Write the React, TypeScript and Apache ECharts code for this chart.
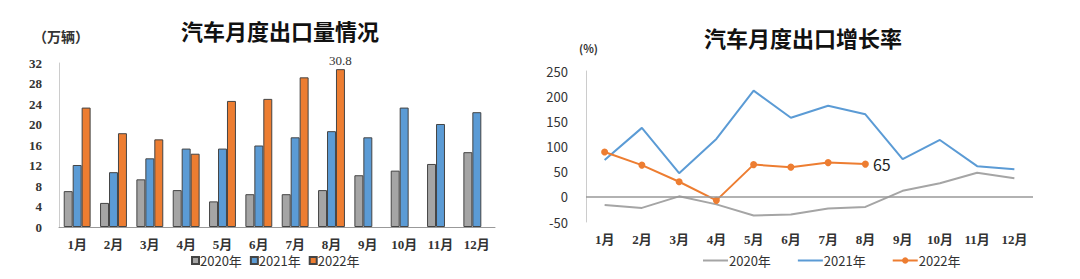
import React, { useEffect, useRef } from "react";
import * as echarts from "echarts";

const months = ["1月", "2月", "3月", "4月", "5月", "6月", "7月", "8月", "9月", "10月", "11月", "12月"];
const seriesNames = ["2020年", "2021年", "2022年"];
const exports2020 = [7.0, 4.7, 9.3, 7.2, 5.0, 6.4, 6.4, 7.2, 10.1, 11.0, 12.3, 14.6];
const exports2021 = [12.1, 10.7, 13.4, 15.3, 15.3, 15.9, 17.5, 18.7, 17.5, 23.3, 20.1, 22.4];
const exports2022 = [23.3, 18.3, 17.1, 14.3, 24.6, 25.0, 29.2, 30.8];
const growth2020 = [-16, -22, 1, -15, -37, -35, -23, -20, 12, 27, 48, 37];
const growth2021 = [73, 137, 47, 115, 211, 157, 181, 164, 75, 113, 61, 55];
const growth2022 = [89, 63, 30, -7, 64, 59, 68, 65];

const GRAY = "#A5A5A5";
const BLUE = "#5B9BD5";
const ORANGE = "#ED7D31";
const SERIF = "'Liberation Serif', 'DejaVu Serif', 'Noto Sans CJK SC', serif";
const SANS = "'Noto Sans CJK SC', 'Noto Sans', sans-serif";

function leftOption(): any {
  const lastIdx = exports2022.length - 1;
  return {
    animation: false,
    title: {
      text: "汽车月度出口量情况",
      left: 275,
      top: 14,
      textAlign: "center",
      textStyle: { fontFamily: SANS, fontSize: 22, fontWeight: "bold", color: "#111" },
    },
    graphic: [
      {
        type: "text",
        x: 33,
        y: 29,
        style: { text: "（万辆）", font: `bold 14px ${SANS}`, fill: "#333" },
      },
    ],
    legend: {
      bottom: 7,
      left: 186,
      itemWidth: 7,
      itemHeight: 7,
      itemGap: 8,
      icon: "rect",
      textStyle: { fontFamily: SANS, fontSize: 13, color: "#333", padding: [0, 0, 0, -4] },
      data: seriesNames,
    },
    grid: { left: 59, right: 45, top: 63, bottom: 52 },
    xAxis: {
      type: "category",
      data: months,
      axisLine: { lineStyle: { color: "#999" } },
      axisTick: { show: false },
      axisLabel: { interval: 0, fontFamily: SERIF, fontSize: 13, color: "#333", fontWeight: "bold", margin: 11 },
    },
    yAxis: {
      type: "value",
      min: 0,
      max: 32,
      interval: 4,
      axisLine: { show: true, lineStyle: { color: "#ccc" } },
      splitLine: { show: false },
      axisLabel: { fontFamily: SERIF, fontSize: 13, color: "#333", fontWeight: "bold", margin: 17 },
    },
    series: [
      {
        name: seriesNames[0],
        type: "bar",
        data: exports2020,
        barGap: "0%",
        barCategoryGap: "26%",
        itemStyle: { color: GRAY, borderColor: "#444", borderWidth: 1 },
      },
      {
        name: seriesNames[1],
        type: "bar",
        data: exports2021,
        itemStyle: { color: BLUE, borderColor: "#444", borderWidth: 1 },
      },
      {
        name: seriesNames[2],
        type: "bar",
        data: exports2022.map((v, i) =>
          i === lastIdx
            ? {
                value: v,
                label: {
                  show: true,
                  position: "top",
                  distance: 2,
                  fontFamily: SERIF,
                  fontSize: 13,
                  color: "#333",
                },
              }
            : v
        ),
        itemStyle: { color: ORANGE, borderColor: "#444", borderWidth: 1 },
      },
    ],
  };
}

function rightOption(): any {
  const lastIdx = growth2022.length - 1;
  return {
    animation: false,
    title: {
      text: "汽车月度出口增长率",
      left: 258,
      top: 21,
      textAlign: "center",
      textStyle: { fontFamily: SANS, fontSize: 22, fontWeight: "bold", color: "#111" },
    },
    graphic: [
      {
        type: "text",
        x: 39,
        y: 42,
        style: { text: "(%)", font: `bold 11px ${SANS}`, fill: "#333" },
      },
    ],
    legend: {
      bottom: 7,
      left: 157,
      itemWidth: 25,
      itemHeight: 8,
      itemGap: 26,
      textStyle: { fontFamily: SANS, fontSize: 13, color: "#333", padding: [0, 0, 0, -4] },
      data: [
        { name: seriesNames[0], itemStyle: { opacity: 0 } },
        { name: seriesNames[1], itemStyle: { opacity: 0 } },
        { name: seriesNames[2] },
      ],
    },
    grid: { left: 46, right: 47, top: 71, bottom: 57 },
    xAxis: {
      type: "category",
      data: months,
      axisLine: { show: false },
      axisTick: { show: false },
      axisLabel: { interval: 0, fontFamily: SERIF, fontSize: 13, color: "#333", fontWeight: "bold", margin: 11 },
    },
    yAxis: {
      type: "value",
      min: -50,
      max: 250,
      interval: 50,
      axisLine: { show: true, lineStyle: { color: "#ccc" } },
      splitLine: { show: false },
      axisLabel: { fontFamily: SANS, fontSize: 13, color: "#333", margin: 18 },
    },
    series: [
      {
        name: seriesNames[0],
        type: "line",
        data: growth2020,
        symbol: "none",
        lineStyle: { color: GRAY, width: 2 },
        itemStyle: { color: GRAY },
        z: 2,
        markLine: {
          silent: true,
          symbol: "none",
          label: { show: false },
          lineStyle: { color: "#999", width: 1.5, type: "solid" },
          data: [{ yAxis: 0 }],
        },
      },
      {
        name: seriesNames[1],
        type: "line",
        data: growth2021,
        symbol: "none",
        lineStyle: { color: BLUE, width: 2 },
        itemStyle: { color: BLUE },
        z: 3,
      },
      {
        name: seriesNames[2],
        type: "line",
        data: growth2022.map((v, i) =>
          i === lastIdx
            ? {
                value: v,
                label: {
                  show: true,
                  position: "right",
                  distance: 4,
                  fontFamily: SANS,
                  fontSize: 16,
                  color: "#222",
                  formatter: "{c}",
                },
              }
            : v
        ),
        symbol: "circle",
        symbolSize: 7,
        lineStyle: { color: ORANGE, width: 2 },
        itemStyle: { color: ORANGE },
        z: 4,
      },
    ],
  };
}

function Chart({ option, left }: { option: any; left: number }) {
  const ref = useRef<HTMLDivElement>(null);
  useEffect(() => {
    if (!ref.current) return;
    const chart = echarts.init(ref.current, undefined, { renderer: "svg" });
    chart.setOption(option);
    return () => chart.dispose();
  }, [option]);
  return (
    <div
      ref={ref}
      style={{ position: "absolute", left, top: 0, width: 540, height: 279 }}
    />
  );
}

const lOpt = leftOption();
const rOpt = rightOption();

export default function App() {
  return (
    <div
      style={{
        position: "fixed",
        left: 0,
        top: 0,
        width: 1080,
        height: 279,
        background: "#fff",
        overflow: "hidden",
      }}
    >
      <Chart option={lOpt} left={0} />
      <Chart option={rOpt} left={540} />
    </div>
  );
}
